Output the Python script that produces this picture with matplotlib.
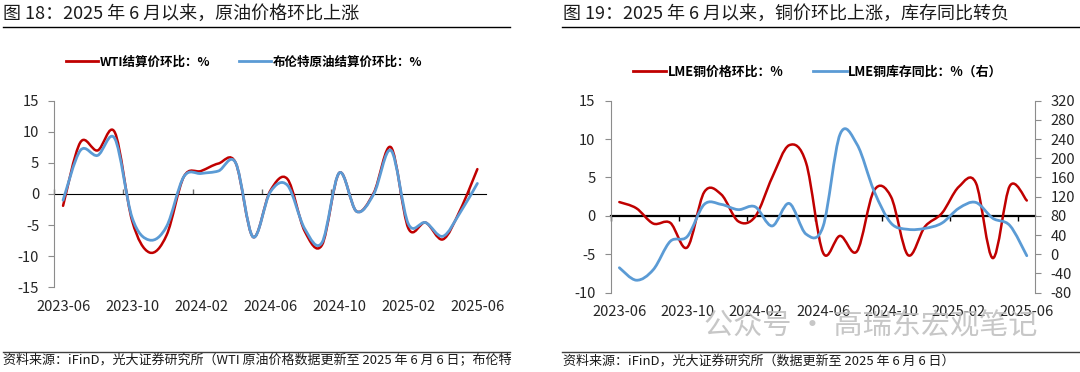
import numpy as np
import pandas as pd
import matplotlib
matplotlib.use('Agg')
import matplotlib.pyplot as plt
from matplotlib.path import Path
from matplotlib.patches import PathPatch
from matplotlib.lines import Line2D

plt.rcParams['font.family'] = ['Noto Sans CJK SC', 'DejaVu Sans']
plt.rcParams['axes.unicode_minus'] = False

# 月份：2023-06 至 2025-06
months = pd.period_range('2023-06', '2025-06', freq='M').strftime('%Y-%m').tolist()
tick_labels = months[::4]

# 图18 原油价格环比（%）
wti = [-1.9, 8.3, 7.0, 9.9, -4.3, -9.4, -6.6, 2.8, 3.7, 4.9, 5.0, -6.9,
       0.5, 2.4, -6.0, -8.2, 3.4, -2.8, 0.2, 7.5, -5.5, -4.6, -7.3, -2.6, 4.0]
brent = [-1.0, 7.0, 6.2, 8.9, -3.8, -7.4, -5.2, 2.8, 3.3, 3.7, 5.0, -6.9,
         0.3, 1.4, -5.6, -7.8, 3.4, -2.8, 0.0, 7.0, -4.8, -4.6, -6.8, -3.0, 1.7]

# 图19 LME铜价格环比（左，%）与 LME铜库存同比（右，%）
cu_price = [1.8, 1.0, -1.0, -0.9, -4.1, 3.1, 2.8, -0.7, -0.1, 5.0, 9.2, 6.9,
            -4.8, -2.6, -4.6, 3.3, 2.5, -5.1, -1.4, 0.35, 3.8, 4.3, -5.5, 3.9, 2.0]
cu_stock = [-28, -54, -32, 27, 37, 104, 104, 93, 99, 59, 106, 42,
            58, 250, 229, 132, 65, 52, 54, 65, 96, 108, 75, 60, -3]

RED = '#C00000'
BLUE = '#5B9BD5'


def smooth_line(ax, y, color, lw=1.8):
    # Excel 式平滑线：用三次贝塞尔曲线连接各数据点
    x = np.arange(len(y), dtype=float)
    y = np.asarray(y, dtype=float)
    verts = [(x[0], y[0])]
    codes = [Path.MOVETO]
    n = len(y)
    for i in range(n - 1):
        i0 = max(i - 1, 0)
        i3 = min(i + 2, n - 1)
        c1 = (x[i] + (x[i + 1] - x[i0]) / 6, y[i] + (y[i + 1] - y[i0]) / 6)
        c2 = (x[i + 1] - (x[i3] - x[i]) / 6, y[i + 1] - (y[i3] - y[i]) / 6)
        verts += [c1, c2, (x[i + 1], y[i + 1])]
        codes += [Path.CURVE4] * 3
    ax.add_patch(PathPatch(Path(verts, codes), fill=False, edgecolor=color,
                           lw=lw, capstyle='round', joinstyle='round', zorder=3))


def style_axis(ax, ylim, yticks, zero_frac, zero_color, zero_lw):
    ax.set_xlim(-0.5, len(months) - 0.5)
    ax.set_ylim(*ylim)
    ax.set_yticks(yticks)
    ax.set_xticks(range(0, len(months), 4))
    ax.set_xticklabels(tick_labels, fontsize=10.6, color='#262626')
    ax.tick_params(axis='x', length=0, pad=9)
    ax.tick_params(axis='y', direction='out', length=4, color='#8c8c8c',
                   labelsize=10.6, labelcolor='#262626', pad=7)
    for s in ['top', 'right', 'bottom']:
        ax.spines[s].set_visible(False)
    ax.spines['left'].set_color('#8c8c8c')
    # 零轴及分类间刻度线
    sec = ax.secondary_xaxis(zero_frac)
    sec.set_xticks(np.arange(-0.5, len(months), 4))
    sec.set_xticklabels([])
    sec.tick_params(length=3.5, width=1, color=zero_color, direction='out')
    sec.spines['bottom'].set_color(zero_color)
    sec.spines['bottom'].set_linewidth(zero_lw)


fig = plt.figure(figsize=(10.8, 3.72), dpi=100)

# ---- 图18 ----
ax1 = fig.add_axes([0.0504, 0.2277, 0.3996, 0.5016])
style_axis(ax1, (-15, 15), range(-15, 16, 5), 0.5, '#6f6f6f', 1.2)
smooth_line(ax1, wti, RED)
smooth_line(ax1, brent, BLUE, lw=2.0)

fig.text(0.003, 0.962, '图 18：2025 年 6 月以来，原油价格环比上涨',
         fontsize=13, weight='medium', va='center', ha='left', color='#1a1a1a')
fig.add_artist(Line2D([0.003, 0.472], [0.927, 0.927], color='black', lw=1.0))

h1 = [Line2D([], [], color=RED, lw=2), Line2D([], [], color=BLUE, lw=2)]
fig.legend(h1, ['WTI结算价环比：%', '布伦特原油结算价环比：%'],
           loc='center', bbox_to_anchor=(0.226, 0.834), ncol=2, frameon=False,
           prop={'size': 9, 'weight': 'bold'}, handlelength=2.6,
           handletextpad=0.1, columnspacing=2.3)

fig.add_artist(Line2D([0.003, 0.472], [0.055, 0.055], color='#404040', lw=1.0))
fig.text(0.003, 0.03,
         '资料来源：iFinD，光大证券研究所（WTI 原油价格数据更新至 2025 年 6 月 6 日；布伦特',
         fontsize=9.4, va='center', ha='left', color='#1a1a1a')

# ---- 图19 ----
ax2 = fig.add_axes([0.5656, 0.2132, 0.3930, 0.5161])
style_axis(ax2, (-10, 15), range(-10, 16, 5), 0.4, 'black', 1.6)
ax3 = ax2.twinx()
ax3.set_ylim(-80, 320)
ax3.set_yticks(range(-80, 321, 40))
ax3.tick_params(axis='y', direction='out', length=4, color='#8c8c8c',
                labelsize=10.6, labelcolor='#262626', pad=7)
for s in ['top', 'left', 'bottom']:
    ax3.spines[s].set_visible(False)
ax3.spines['right'].set_color('#8c8c8c')
smooth_line(ax2, cu_price, RED)
smooth_line(ax3, cu_stock, BLUE, lw=2.0)

fig.text(0.521, 0.962, '图 19：2025 年 6 月以来，铜价环比上涨，库存同比转负',
         fontsize=13, weight='medium', va='center', ha='left', color='#1a1a1a')
fig.add_artist(Line2D([0.520, 1.0], [0.927, 0.927], color='black', lw=1.0))

h2 = [Line2D([], [], color=RED, lw=2), Line2D([], [], color=BLUE, lw=2)]
fig.legend(h2, ['LME铜价格环比：%', 'LME铜库存同比：%（右）'],
           loc='center', bbox_to_anchor=(0.757, 0.807), ncol=2, frameon=False,
           prop={'size': 9.3, 'weight': 'bold'}, handlelength=2.6,
           handletextpad=0.1, columnspacing=2.3)

fig.add_artist(Line2D([0.520, 1.0], [0.055, 0.055], color='#404040', lw=1.0))
fig.text(0.521, 0.03, '资料来源：iFinD，光大证券研究所（数据更新至 2025 年 6 月 6 日）',
         fontsize=9.4, va='center', ha='left', color='#1a1a1a')

# 水印
fig.text(0.652, 0.125, '公众号 · 高瑞东宏观笔记', fontsize=21, color='#bdbdbd',
         alpha=0.85, va='center', ha='left', zorder=10)

fig.savefig('out.png', dpi=100)
